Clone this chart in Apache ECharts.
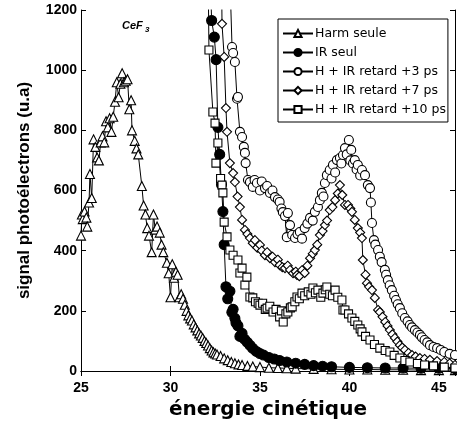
<!DOCTYPE html>
<html>
<head>
<meta charset="utf-8">
<script src="https://cdn.jsdelivr.net/npm/echarts@6/dist/echarts.min.js"></script>
<style>
  html, body { margin: 0; padding: 0; background: #fff; }
  #chart { width: 457px; height: 433px; }
</style>
</head>
<body>
<div id="chart"></div>
<script>
// energy (eV), signal (u.a) pairs
const harmSeule = [[25.0, 450], [25.05, 520], [25.1, 505], [25.2, 530], [25.3, 510], [25.35, 480], [25.45, 560],
  [25.5, 655], [25.6, 575], [25.7, 770], [25.8, 745], [25.9, 710], [26.0, 700], [26.1, 760], [26.2, 780],
  [26.3, 760], [26.4, 830], [26.5, 810], [26.6, 840], [26.7, 795], [26.8, 845], [26.9, 895], [27.0, 960],
  [27.1, 910], [27.2, 955], [27.3, 990], [27.4, 960], [27.5, 965], [27.6, 970], [27.7, 870], [27.8, 900],
  [27.85, 800], [28.0, 765], [28.1, 740], [28.2, 720], [28.4, 615], [28.5, 550], [28.6, 520], [28.7, 475],
  [28.8, 450], [28.95, 395], [29.05, 520], [29.15, 470], [29.25, 480], [29.4, 460], [29.5, 420], [29.6, 395],
  [29.8, 360], [29.9, 325], [30.0, 245], [30.1, 355], [30.2, 310], [30.3, 330], [30.4, 320], [30.5, 245],
  [30.6, 255], [30.7, 240], [30.8, 220], [30.9, 200], [31.0, 185], [31.1, 175], [31.2, 168], [31.3, 155],
  [31.4, 145], [31.5, 135], [31.6, 125], [31.7, 118], [31.8, 110], [31.9, 100], [32.0, 93], [32.1, 85],
  [32.2, 76], [32.3, 68], [32.4, 62], [32.5, 58], [32.6, 55], [32.8, 50], [33.0, 42], [33.2, 36], [33.4, 30],
  [33.6, 26], [33.8, 22], [34.0, 20], [34.3, 17], [34.6, 15], [35.0, 13], [35.5, 11], [36.0, 10], [36.5, 9],
  [37.0, 8], [38.0, 7], [39.0, 6], [40.0, 5], [41.0, 5], [42.0, 4], [43.0, 4], [44.0, 3], [45.0, 3], [45.9, 3]];

const irSeul = [[32.2, 1350], [32.3, 1165], [32.45, 1110], [32.55, 1035], [32.65, 810], [32.75, 720],
  [32.85, 620], [32.93, 530], [33.0, 420], [33.1, 280], [33.2, 240], [33.32, 265], [33.43, 195], [33.5, 205],
  [33.6, 175], [33.66, 160], [33.77, 150], [33.88, 115], [34.0, 125], [34.15, 105], [34.3, 95], [34.45, 85],
  [34.6, 75], [34.8, 65], [35.0, 58], [35.2, 53], [35.5, 45], [35.8, 40], [36.1, 35], [36.5, 30], [37.0, 26],
  [37.5, 22], [38.0, 18], [38.5, 16], [39.0, 14], [40.0, 12], [41.0, 11], [42.0, 10], [43.0, 10], [44.0, 9],
  [45.0, 9], [45.9, 8]];

const retard3 = [[33.3, 1350], [33.44, 1077], [33.5, 1057], [33.6, 1027], [33.72, 905], [33.77, 911],
  [33.88, 795], [34.0, 778], [34.1, 745], [34.16, 725], [34.2, 691], [34.33, 635], [34.44, 628], [34.6, 612],
  [34.7, 635], [34.83, 625], [35.0, 600], [35.1, 630], [35.28, 608], [35.4, 615], [35.56, 592], [35.7, 600],
  [35.84, 578], [36.0, 570], [36.1, 562], [36.2, 540], [36.28, 528], [36.4, 515], [36.5, 445], [36.56, 525],
  [36.68, 485], [36.8, 452], [36.96, 442], [37.1, 455], [37.23, 462], [37.35, 440], [37.5, 475], [37.65, 490],
  [37.8, 509], [37.95, 500], [38.07, 529], [38.24, 545], [38.35, 568], [38.46, 592], [38.55, 580], [38.63, 625],
  [38.74, 651], [38.9, 668], [39.0, 640], [39.08, 685], [39.2, 660], [39.3, 701], [39.47, 708], [39.55, 690],
  [39.64, 718], [39.75, 741], [39.85, 720], [39.97, 768], [40.05, 700], [40.1, 735], [40.2, 690], [40.3, 701],
  [40.4, 670], [40.47, 685], [40.6, 650], [40.7, 668], [40.87, 651], [41.03, 618], [41.15, 608], [41.2, 560],
  [41.26, 492], [41.37, 435], [41.45, 420], [41.6, 402], [41.7, 380], [41.8, 362], [41.98, 336], [42.05, 320],
  [42.15, 302], [42.25, 285], [42.37, 269], [42.5, 250], [42.6, 236], [42.7, 222], [42.82, 209], [42.95, 192],
  [43.1, 176], [43.25, 165], [43.38, 153], [43.5, 145], [43.66, 136], [43.8, 128], [43.94, 120], [44.05, 112],
  [44.2, 103], [44.35, 95], [44.5, 86], [44.7, 80], [44.9, 76], [45.1, 70], [45.3, 63], [45.6, 57], [45.9, 53]];

const retard7 = [[32.85, 1350], [32.88, 1154], [33.0, 1044], [33.1, 874], [33.16, 795], [33.32, 691],
  [33.5, 658], [33.6, 628], [33.75, 580], [33.88, 545], [34.0, 502], [34.16, 469], [34.3, 455], [34.44, 442],
  [34.6, 425], [34.72, 435], [34.85, 410], [35.0, 419], [35.1, 400], [35.28, 385], [35.4, 395], [35.56, 375],
  [35.7, 380], [35.84, 362], [36.0, 370], [36.1, 352], [36.25, 345], [36.4, 342], [36.55, 350], [36.68, 336],
  [36.85, 325], [37.0, 330], [37.07, 319], [37.2, 315], [37.35, 335], [37.5, 326], [37.65, 350], [37.8, 375],
  [37.95, 390], [38.07, 402], [38.2, 420], [38.35, 452], [38.5, 465], [38.63, 485], [38.75, 500], [38.9, 535],
  [39.05, 545], [39.2, 568], [39.35, 590], [39.47, 618], [39.6, 585], [39.75, 552], [39.92, 552], [40.05, 540],
  [40.14, 529], [40.3, 502], [40.47, 475], [40.6, 460], [40.7, 442], [40.75, 369], [40.9, 320], [40.98, 292],
  [41.1, 280], [41.26, 269], [41.42, 243], [41.6, 203], [41.7, 196], [41.85, 180], [42.0, 163], [42.13, 150],
  [42.26, 136], [42.4, 122], [42.54, 110], [42.68, 98], [42.82, 86], [42.95, 78], [43.1, 70], [43.3, 60],
  [43.5, 53], [43.7, 48], [43.94, 43], [44.2, 40], [44.5, 37], [44.9, 33], [45.3, 30], [45.6, 25], [45.9, 20]];

const retard10 = [[32.1, 1350], [32.15, 1067], [32.37, 861], [32.49, 824], [32.54, 691], [32.65, 758],
  [32.8, 640], [32.88, 618], [32.93, 592], [33.0, 495], [33.16, 446], [33.32, 402], [33.5, 385], [33.77, 369],
  [33.88, 326], [34.0, 342], [34.16, 286], [34.27, 312], [34.44, 246], [34.6, 243], [34.75, 230], [34.9, 225],
  [35.0, 219], [35.15, 225], [35.3, 205], [35.4, 209], [35.55, 215], [35.73, 196], [35.9, 205], [36.1, 180],
  [36.2, 200], [36.3, 163], [36.45, 190], [36.56, 196], [36.7, 210], [36.8, 213], [36.95, 230], [37.07, 246],
  [37.2, 240], [37.35, 259], [37.5, 250], [37.7, 263], [37.85, 255], [37.96, 276], [38.1, 260], [38.24, 269],
  [38.4, 245], [38.52, 259], [38.65, 270], [38.74, 279], [38.9, 255], [39.05, 250], [39.2, 269], [39.35, 245],
  [39.58, 236], [39.64, 203], [39.75, 203], [39.95, 190], [40.14, 176], [40.3, 165], [40.47, 153], [40.6, 140],
  [40.7, 130], [40.9, 115], [41.15, 103], [41.4, 88], [41.7, 76], [42.0, 68], [42.26, 63], [42.5, 52],
  [42.82, 43], [43.1, 35], [43.38, 30], [43.8, 25], [44.2, 20], [44.7, 17], [45.3, 13], [45.9, 10]];

const seriesNames = ["Harm seule", "IR seul", "H + IR retard +3 ps", "H + IR retard +7 ps", "H + IR retard +10 ps"];
const xTicks = [25, 30, 35, 40, 45];
const yTicks = [0, 200, 400, 600, 800, 1000, 1200];

const chart = echarts.init(document.getElementById("chart"), null, { renderer: "canvas" });

function lineSeries(name, data, symbol, size, fill) {
  return {
    name: name,
    type: "line",
    data: data,
    symbol: symbol,
    symbolSize: size,
    showAllSymbol: true,
    clip: true,
    lineStyle: { color: "#000", width: 1 },
    itemStyle: { color: fill, borderColor: "#000", borderWidth: 1.1 },
    emphasis: { disabled: true },
  };
}

const tickFont = { fontFamily: "Liberation Sans, Arial", fontWeight: "bold", fontSize: 14, color: "#000" };

const option = {
  animation: false,
  backgroundColor: "#fff",
  grid: { left: 81, right: 2, top: 10, bottom: 62 },
  legend: {
    data: seriesNames,
    orient: "vertical",
    left: 278,
    top: 19,
    itemWidth: 30,
    itemHeight: 9,
    itemGap: 6,
    padding: [8, 2, 6, 4],
    borderColor: "#000",
    borderWidth: 1,
    backgroundColor: "#fff",
    textStyle: { fontFamily: "DejaVu Sans", fontSize: 12.5, color: "#000", padding: [0, 0, 0, -3] },
  },
  graphic: [
    { type: "text", left: 122, top: 20, style: { text: "CeF", font: "italic bold 11px Liberation Sans", fill: "#000" } },
    { type: "text", left: 145, top: 26, style: { text: "3", font: "italic bold 8px Liberation Sans", fill: "#000" } },
  ],
  xAxis: [
    {
      type: "value",
      min: xTicks[0],
      max: 45.9,
      interval: 5,
      name: "énergie cinétique",
      nameLocation: "middle",
      nameGap: 29,
      nameTextStyle: { fontFamily: "DejaVu Sans", fontWeight: "bold", fontSize: 20, color: "#000", verticalAlign: "top" },
      axisLine: { lineStyle: { color: "#000", width: 1 } },
      axisTick: { inside: true, length: 5, lineStyle: { color: "#000" } },
      axisLabel: Object.assign({ margin: 10, showMaxLabel: false, formatter: (v) => (xTicks.includes(v) ? String(v) : "") }, tickFont),
      splitLine: { show: false },
    },
    {
      type: "value",
      position: "top",
      min: xTicks[0],
      max: 45.9,
      interval: 5,
      axisLine: { lineStyle: { color: "#000", width: 1 } },
      axisTick: { inside: true, length: 5, lineStyle: { color: "#000" } },
      axisLabel: { show: false },
      splitLine: { show: false },
    },
  ],
  yAxis: [
    {
      type: "value",
      min: yTicks[0],
      max: yTicks[yTicks.length - 1],
      interval: 200,
      name: "signal photoélectrons (u.a)",
      nameLocation: "middle",
      nameGap: 48,
      nameTextStyle: { fontFamily: "Liberation Sans, Arial", fontWeight: "bold", fontSize: 17, color: "#000" },
      axisLine: { show: true, lineStyle: { color: "#000", width: 1 } },
      axisTick: { show: true, inside: true, length: 5, lineStyle: { color: "#000" } },
      axisLabel: Object.assign({ margin: 4, formatter: (v) => String(v) }, tickFont),
      splitLine: { show: false },
    },
    {
      type: "value",
      position: "right",
      min: yTicks[0],
      max: yTicks[yTicks.length - 1],
      interval: 200,
      axisLine: { show: true, lineStyle: { color: "#000", width: 1 } },
      axisTick: { show: true, inside: true, length: 5, lineStyle: { color: "#000" } },
      axisLabel: { show: false },
      splitLine: { show: false },
    },
  ],
  series: [
    lineSeries(seriesNames[0], harmSeule, "triangle", 9, "#fff"),
    lineSeries(seriesNames[1], irSeul, "circle", 10, "#000"),
    lineSeries(seriesNames[2], retard3, "circle", 9, "#fff"),
    lineSeries(seriesNames[3], retard7, "diamond", 9, "#fff"),
    lineSeries(seriesNames[4], retard10, "rect", 8, "#fff"),
  ],
};

chart.setOption(option);
</script>
</body>
</html>
